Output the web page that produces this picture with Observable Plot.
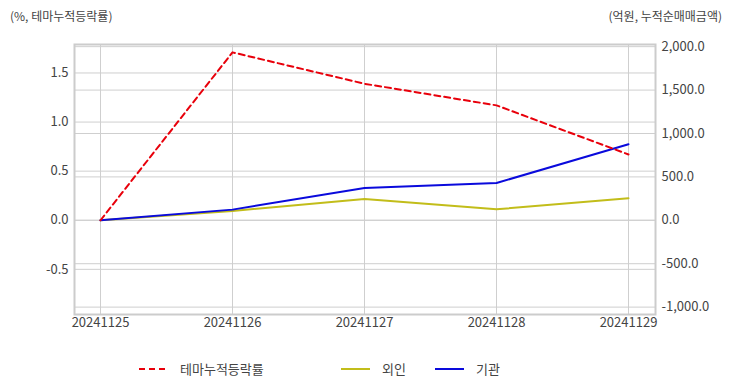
<!DOCTYPE html>
<html>
<head>
<meta charset="utf-8">
<script src="https://cdn.jsdelivr.net/npm/d3@7"></script>
<script src="https://cdn.jsdelivr.net/npm/@observablehq/plot@0.6"></script>
<style>
  html, body { margin: 0; padding: 0; background: #fff; }
  body { width: 732px; height: 392px; position: relative; overflow: hidden;
         font-family: "Noto Sans CJK KR", "Noto Sans", sans-serif; color: #444; }
  .hdr { position: absolute; top: 7px; font-size: 12px; line-height: 18px; }
  #chart { position: absolute; left: 0; top: 36px; }
  .leg { position: absolute; top: 360px; font-size: 13px; line-height: 18px; display: flex; align-items: center; }
  .leg svg { margin-right: 12px; }
</style>
</head>
<body>
<div class="hdr" style="left:10px">(%, 테마누적등락률)</div>
<div class="hdr" style="right:10px">(억원, 누적순매매금액)</div>
<div id="chart"></div>
<div id="legend"></div>
<script>
// ---- data ----
const dates = ["20241125", "20241126", "20241127", "20241128", "20241129"];
const themeReturn = [0, 1.71, 1.39, 1.17, 0.67];     // %, left axis
const foreign = [0, 107, 246, 127, 254];             // 억원, right axis
const institution = [0, 123, 372, 430, 877];         // 억원, right axis
const leftTicks = [-0.5, 0, 0.5, 1.0, 1.5];
const rightTicks = [-1000, -500, 0, 500, 1000, 1500, 2000];
const seriesNames = ["테마누적등락률", "외인", "기관"];
const seriesColors = ["#e8000b", "#c2bd1a", "#0a0adc"];

// ---- dual-axis mapping ----
const leftDomain = [-0.96, 1.79];
const rightDomain = [-1085, 2025];
const toLeft = d3.scaleLinear().domain(rightDomain).range(leftDomain);

const rows = (vals, name, conv) => dates.map((d, i) => ({date: d, v: conv(vals[i]), name}));
const themeRows = rows(themeReturn, seriesNames[0], v => v);
const foreignRows = rows(foreign, seriesNames[1], v => toLeft(v));
const instRows = rows(institution, seriesNames[2], v => toLeft(v));

const fmtL = d => d3.format(".1f")(d).replace("\u2212", "-");
const fmtR = d => d3.format(",.1f")(d).replace("\u2212", "-");
const font = "Noto Sans CJK KR, Noto Sans, sans-serif";

const chart = Plot.plot({
  width: 732,
  height: 300,
  marginLeft: 74,
  marginRight: 77,
  marginTop: 8,
  marginBottom: 22,
  style: {fontFamily: font, fontSize: "13px", color: "#444", background: "#fff"},
  x: {type: "point", domain: dates, padding: 0, insetLeft: 26, insetRight: 27},
  y: {domain: leftDomain},
  marks: [
    Plot.gridX(dates, {stroke: "#cfcfcf", strokeOpacity: 1}),
    Plot.gridY(leftTicks, {stroke: "#cfcfcf", strokeOpacity: 1}),
    Plot.gridY(rightTicks.map(t => toLeft(t)), {stroke: "#cfcfcf", strokeOpacity: 1}),
    Plot.frame({stroke: "#cccccc", strokeWidth: 2}),
    Plot.axisX(dates, {tickSize: 0, tickPadding: 3, label: null, fontSize: 13}),
    Plot.axisY(leftTicks, {anchor: "left", tickSize: 0, tickPadding: 6, tickFormat: fmtL, label: null, fontSize: 13}),
    Plot.axisY(rightTicks.map(t => toLeft(t)), {anchor: "right", tickSize: 0, tickPadding: 6,
      tickFormat: d => fmtR(Math.round(toLeft.invert(d))), label: null, fontSize: 13}),
    Plot.line(foreignRows, {x: "date", y: "v", stroke: seriesColors[1], strokeWidth: 2}),
    Plot.line(instRows, {x: "date", y: "v", stroke: seriesColors[2], strokeWidth: 2}),
    Plot.line(themeRows, {x: "date", y: "v", stroke: seriesColors[0], strokeWidth: 2, strokeDasharray: "6,4"})
  ]
});
document.getElementById("chart").appendChild(chart);

// ---- legend ----
const legX = [139, 341, 435];
const legend = document.getElementById("legend");
seriesNames.forEach((n, i) => {
  const div = document.createElement("div");
  div.className = "leg";
  div.style.left = legX[i] + "px";
  const dash = i === 0 ? ' stroke-dasharray="6,4"' : '';
  div.innerHTML = `<svg width="29" height="4"><line x1="0" x2="29" y1="2" y2="2" stroke="${seriesColors[i]}" stroke-width="2"${dash}/></svg><span>${n}</span>`;
  legend.appendChild(div);
});
</script>
</body>
</html>
